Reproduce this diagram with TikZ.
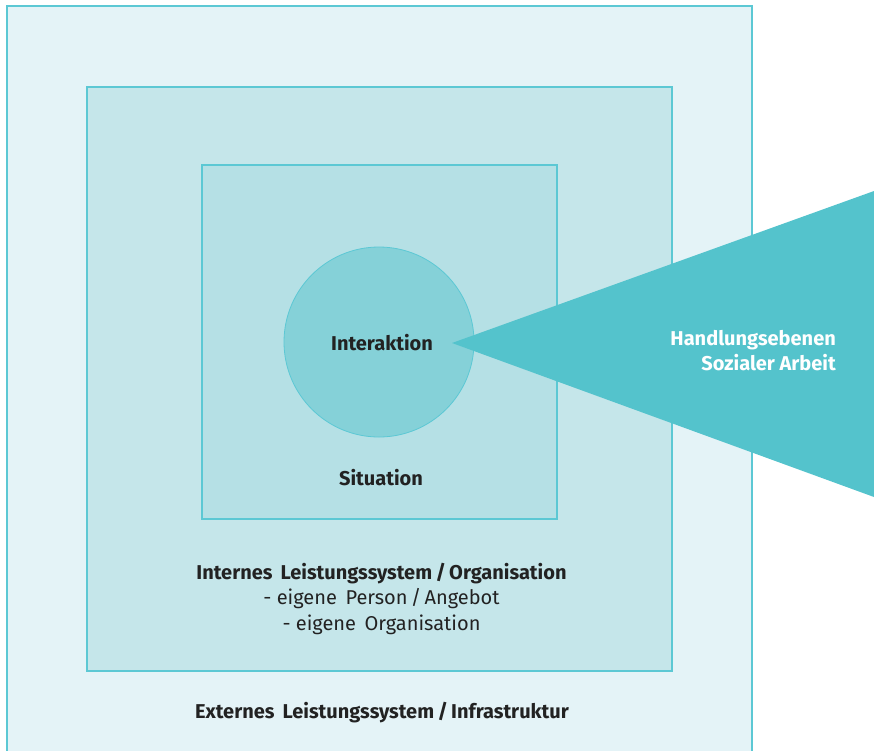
\documentclass[tikz,border=0pt]{standalone}
\usepackage{fontspec}
\setmainfont{Fira Sans}
\begin{document}
\begin{tikzpicture}[x=1pt,y=-1pt,
  frame/.style={draw=cyanline, line width=1.2pt},
  lbl/.style={text=ink, font=\fontsize{20}{26}\selectfont\bfseries, inner sep=0pt},
  sub/.style={text=ink, font=\fontsize{20}{26}\selectfont, inner sep=0pt, align=center},
  white lbl/.style={text=white, font=\fontsize{20}{25}\selectfont\bfseries, inner sep=0pt, align=right}]
\definecolor{cyanline}{HTML}{5CC8D4}
\definecolor{outerfill}{HTML}{E4F3F7}
\definecolor{midfill}{HTML}{C5E6EA}
\definecolor{innerfill}{HTML}{B5E0E5}
\definecolor{circfill}{HTML}{85D1D8}
\definecolor{wedge}{HTML}{54C3CC}
\definecolor{ink}{HTML}{222222}
\useasboundingbox (0,0) rectangle (874,750);
% nested levels
\draw[frame, fill=outerfill] (7,6) rectangle (752,760);
\draw[frame, fill=midfill] (87,87) rectangle (672,671);
\draw[frame, fill=innerfill] (202,165) rectangle (557,519);
\draw[frame, line width=0.8pt, fill=circfill] (379,342) circle (95);
% wedge pointing at the centre
\coordinate (tip) at (452,343);
\coordinate (tr) at (874,191);
\coordinate (br) at (874,497);
\fill[wedge] (tip) -- (tr) -- (br) -- cycle;
% labels
\node[lbl] (interaktion) at (382,343) {Interaktion};
\node[lbl] (situation) at (381,478) {Situation};
\node[lbl] (intern) at (381.5,574) {Internes\, Leistungssystem\,/\,Organisation};
\node[sub, anchor=north] (internsub) at (381.5,588) {- eigene\, Person\,/\,Angebot\\- eigene\, Organisation};
\node[lbl] (extern) at (382,713) {Externes\, Leistungssystem\,/\,Infrastruktur};
\node[white lbl, anchor=east] (handlung) at (836,351) {Handlungsebenen\\Sozialer Arbeit};
\end{tikzpicture}
\end{document}
